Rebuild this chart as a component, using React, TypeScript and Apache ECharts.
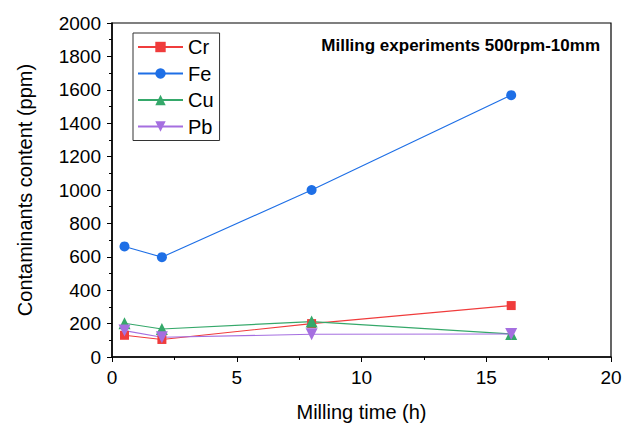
import React, { useEffect, useRef } from "react";
import * as echarts from "echarts";

const times = [0.5, 2, 8, 16];
const cr = [130, 105, 200, 308];
const fe = [662, 598, 1000, 1568];
const cu = [202, 168, 212, 138];
const pb = [158, 118, 136, 138];

const FONT = "Liberation Sans, Arial, sans-serif";

export default function App() {
  const ref = useRef<HTMLDivElement>(null);
  useEffect(() => {
    const chart = echarts.init(ref.current!, null, { renderer: "svg" });
    const mk = (name: string, data: number[], color: string, symbol: string, size: number) => ({
      name,
      type: "line",
      data: times.map((t, i) => [t, data[i]]),
      symbol,
      symbolSize: size,
      lineStyle: { color, width: 1.1 },
      itemStyle: { color },
    });
    chart.setOption({
      animation: false,
      textStyle: { fontFamily: FONT },
      grid: { left: 112, right: 26, top: 23, bottom: 68, show: true, borderColor: "#000", borderWidth: 1.2 },
      title: {
        text: "Milling experiments 500rpm-10mm",
        right: 32,
        top: 32,
        textStyle: { fontSize: 17, fontWeight: "bold", color: "#000", fontFamily: FONT },
      },
      legend: {
        left: 133,
        top: 33,
        orient: "vertical",
        borderColor: "#333",
        borderWidth: 1,
        padding: [4, 6, 4, 4],
        itemGap: 6.5,
        itemWidth: 45,
        itemHeight: 13,
        itemTextGap: 6,
        textStyle: { fontSize: 20, lineHeight: 19, color: "#000", fontFamily: FONT },
        data: ["Cr", "Fe", "Cu", "Pb"],
      },
      xAxis: {
        type: "value",
        min: 0,
        max: 20,
        interval: 5,
        name: "Milling time (h)",
        nameLocation: "middle",
        nameGap: 45,
        nameTextStyle: { fontSize: 20, color: "#000" },
        axisLine: { lineStyle: { color: "#000", width: 1.5 } },
        axisTick: { show: true, length: 5, lineStyle: { color: "#000" } },
        minorTick: { show: true, splitNumber: 2, length: 3, lineStyle: { color: "#000" } },
        axisLabel: { fontSize: 19, color: "#000", margin: 11 },
        splitLine: { show: false },
      },
      yAxis: {
        type: "value",
        min: 0,
        max: 2000,
        interval: 200,
        name: "Contaminants content (ppm)",
        nameLocation: "middle",
        nameGap: 77,
        nameTextStyle: { fontSize: 20, color: "#000" },
        axisLine: { show: true, lineStyle: { color: "#000", width: 1.5 } },
        axisTick: { show: true, length: 5, lineStyle: { color: "#000" } },
        minorTick: { show: true, splitNumber: 2, length: 3, lineStyle: { color: "#000" } },
        axisLabel: { fontSize: 19, color: "#000", margin: 11, formatter: (v: number) => String(v) },
        splitLine: { show: false },
      },
      series: [
        mk("Cr", cr, "#f03c3c", "rect", 9),
        mk("Fe", fe, "#1e6fe6", "circle", 10),
        mk("Cu", cu, "#35a86a", "triangle", 12),
        mk("Pb", pb, "#a56fe0", "path://M0,0 L10,0 L5,9 Z", 12),
      ],
    });
    return () => chart.dispose();
  }, []);
  return <div ref={ref} style={{ width: 637, height: 427, position: "absolute", left: 0, top: 0 }} />;
}
